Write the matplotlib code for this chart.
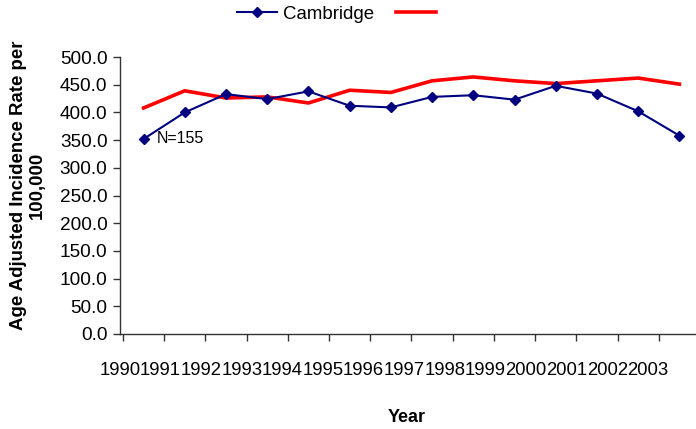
import numpy as np
import matplotlib
matplotlib.use("Agg")
import matplotlib.pyplot as plt
from matplotlib.ticker import FixedLocator, FuncFormatter

plt.rcParams['font.family'] = ['Liberation Sans', 'DejaVu Sans']

years = ['1990', '1991', '1992', '1993', '1994', '1995', '1996',
         '1997', '1998', '1999', '2000', '2001', '2002', '2003']
cambridge = [352, 400, 433, 424, 438, 412, 409, 428, 431, 423, 448, 434, 402, 358]
state = [408, 439, 426, 428, 417, 440, 436, 457, 464, 457, 452, 457, 462, 451]
yticks = [0, 50, 100, 150, 200, 250, 300, 350, 400, 450, 500]
annotation = 'N=155'

fig = plt.figure(figsize=(6.96, 4.29), dpi=100)
W, H = 696, 429
ax = fig.add_axes([120 / W, (H - 334) / H, 580 / W, 277 / H])

x = np.arange(len(years))
l1, = ax.plot(x, cambridge, color='#000080', lw=1.5, marker='D', ms=5.5,
              mec='#000080', mfc='#000080', clip_on=False, zorder=3)
l2, = ax.plot(x, state, color='#FF0000', lw=2.6, clip_on=False, zorder=2)

ax.set_xlim(-0.5, len(years) - 0.5)
ax.set_ylim(0, 500)

ax.set_yticks(yticks)
ax.yaxis.set_major_formatter(FuncFormatter(lambda v, p: f'{v:.1f}'))
ax.tick_params(axis='y', direction='out', length=5, width=1, pad=4,
               labelsize=13.7, color='#333333')

# category boundary ticks
ax.xaxis.set_minor_locator(FixedLocator(np.arange(len(years) + 1) - 0.5))
ax.tick_params(axis='x', which='minor', direction='out', length=5, width=1,
               color='#333333')
# labels (crowded, as in the original)
lab_pos = -0.572 + np.arange(len(years)) * 0.985
ax.set_xticks(lab_pos)
ax.set_xticklabels(years)
ax.tick_params(axis='x', which='major', length=0, pad=20, labelsize=13.3)

for s in ['top', 'right']:
    ax.spines[s].set_visible(False)
for s in ['left', 'bottom']:
    ax.spines[s].set_color('#333333')
    ax.spines[s].set_linewidth(1)

ax.text(0.32, cambridge[0], annotation, fontsize=11.5, va='center', ha='left')

fig.text(28 / W, 1 - 185 / H, 'Age Adjusted Incidence Rate per\n100,000',
         rotation=90, ha='center', va='center', fontsize=13.4, fontweight='bold',
         multialignment='center', linespacing=1.15)
fig.text(407 / W, 1 - 417 / H, 'Year', ha='center', va='center',
         fontsize=13, fontweight='bold')

fig.legend([l1, l2], ['Cambridge', ''], ncol=2, loc='center left',
           bbox_to_anchor=(237 / W, 1 - 14 / H), frameon=False,
           fontsize=13.4, handlelength=2.15, handletextpad=0.3,
           columnspacing=1.2, borderpad=0, borderaxespad=0)

fig.savefig('out.png', dpi=100)
